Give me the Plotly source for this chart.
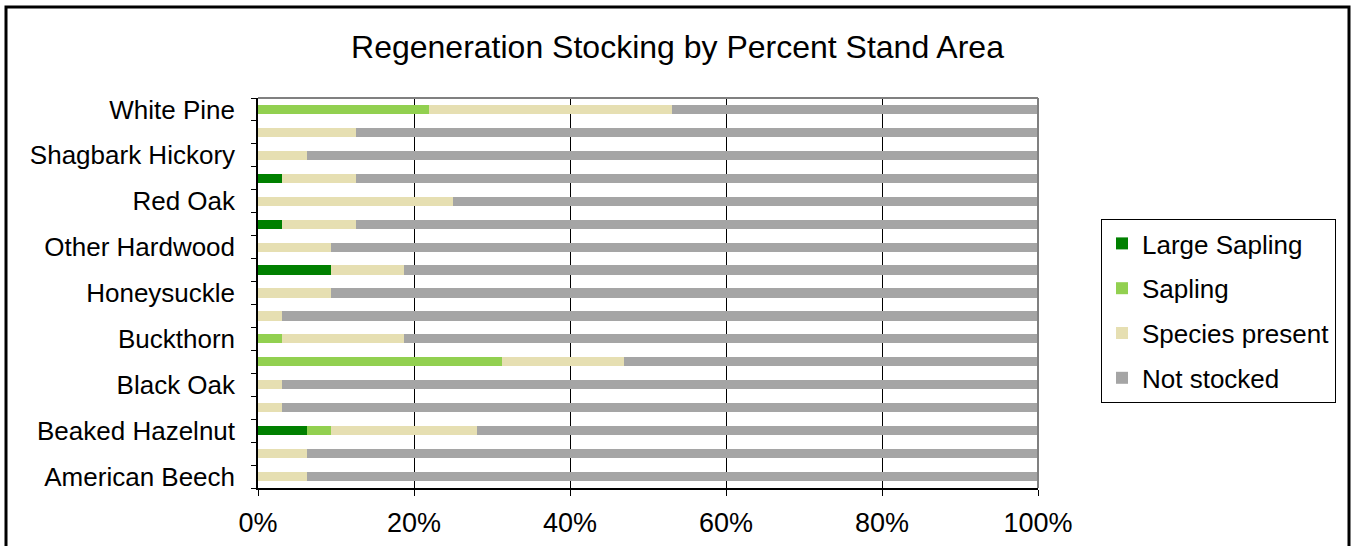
import plotly.graph_objects as go

# Species rows, listed bottom to top
species = [
    "American Beech", "Basswood", "Beaked Hazelnut", "Black Cherry", "Black Oak",
    "Boxelder", "Buckthorn", "Hackberry", "Honeysuckle", "Ironwood",
    "Other Hardwood", "Red Maple", "Red Oak", "Sassafras", "Shagbark Hickory",
    "Sugar Maple", "White Pine",
]
# Only every other species name is printed on the axis
labeled_species = species[::2]

# Percent of stand area in each stocking class
large_sapling = [0, 0, 6.25, 0, 0, 0, 0, 0, 0, 9.375, 0, 3.125, 0, 3.125, 0, 0, 0]
sapling = [0, 0, 3.125, 0, 0, 31.25, 3.125, 0, 0, 0, 0, 0, 0, 0, 0, 0, 21.875]
species_present = [6.25, 6.25, 18.75, 3.125, 3.125, 15.625, 15.625, 3.125, 9.375,
                   9.375, 9.375, 9.375, 25, 9.375, 6.25, 12.5, 31.25]
not_stocked = [93.75, 93.75, 71.875, 96.875, 96.875, 53.125, 81.25, 96.875, 90.625,
               81.25, 90.625, 87.5, 75, 87.5, 93.75, 87.5, 46.875]

x_ticks = [0, 20, 40, 60, 80, 100]

series = [
    ("Large Sapling", large_sapling, "#008000"),
    ("Sapling", sapling, "#92D050"),
    ("Species present", species_present, "#E6DFB2"),
    ("Not stocked", not_stocked, "#A5A5A5"),
]

W, H = 1352, 546
L, R, T, B = 258, 314, 98, 58
FONT = "Liberation Sans, Arial, sans-serif"

fig = go.Figure()
for i, (name, vals, color) in enumerate(series):
    fig.add_trace(go.Bar(
        y=species, x=vals, name=name, orientation="h",
        marker=dict(color=color, line=dict(width=0)),
        legendgroup=f"g{i}",
    ))

# Boundary tick marks on an overlaid numeric axis
fig.add_trace(go.Scatter(x=[None], y=[None], yaxis="y2", showlegend=False))


def px_x(p):
    return (p - L) / (W - L - R)


def px_y(p):
    return (H - B - p) / (H - T - B)


fig.update_layout(
    width=W, height=H,
    margin=dict(l=L, r=R, t=T, b=B, autoexpand=False),
    paper_bgcolor="white", plot_bgcolor="white",
    barmode="stack", bargap=0.6,
    font=dict(family=FONT, color="black", size=26),
    title=dict(text="Regeneration Stocking by Percent Stand Area",
               x=(352 + 1003) / 2 / W, xanchor="center",
               y=1 - 47 / H, yanchor="middle",
               font=dict(size=32, family=FONT, color="black")),
    xaxis=dict(range=[0, 100], tickvals=x_ticks,
               ticktext=[f"{v}%" for v in x_ticks],
               showgrid=True, gridcolor="black", gridwidth=1,
               showline=True, linecolor="black", linewidth=1.5,
               ticks="outside", ticklen=6, tickcolor="black",
               ticklabelstandoff=4, zeroline=False, automargin=False,
               tickfont=dict(size=27)),
    yaxis=dict(type="category", categoryorder="array", categoryarray=species,
               range=[-0.5, len(species) - 0.5],
               tickvals=labeled_species, ticktext=labeled_species,
               ticks="", showgrid=False, automargin=False,
               showline=True, linecolor="black", linewidth=1.5,
               ticklabelstandoff=16, tickfont=dict(size=26)),
    yaxis2=dict(overlaying="y", range=[-0.5, len(species) - 0.5],
                tickvals=[k - 0.5 for k in range(len(species) + 1)],
                showticklabels=False, ticks="outside", ticklen=6,
                tickcolor="black", showgrid=False, zeroline=False,
                showline=False, side="left", automargin=False),
    legend=dict(x=px_x(1101), y=px_y(219), xanchor="left", yanchor="top",
                bordercolor="black", borderwidth=1, bgcolor="white",
                traceorder="grouped", tracegroupgap=8,
                font=dict(size=26, family=FONT), itemwidth=30),
    showlegend=True,
)

# Grey frame on the top and right of the plot area
fig.add_shape(type="line", xref="paper", yref="paper", x0=0, x1=1, y0=1, y1=1,
              line=dict(color="#808080", width=2))
fig.add_shape(type="line", xref="paper", yref="paper", x0=1, x1=1, y0=0, y1=1,
              line=dict(color="#808080", width=2))

# Black outer chart border
fig.add_shape(type="path", xref="paper", yref="paper",
              path=(f"M {px_x(6)} {px_y(H + 5)} L {px_x(6)} {px_y(7)} "
                    f"L {px_x(1349)} {px_y(7)} L {px_x(1349)} {px_y(H + 5)}"),
              line=dict(color="black", width=3))

fig.write_html("out.html")
